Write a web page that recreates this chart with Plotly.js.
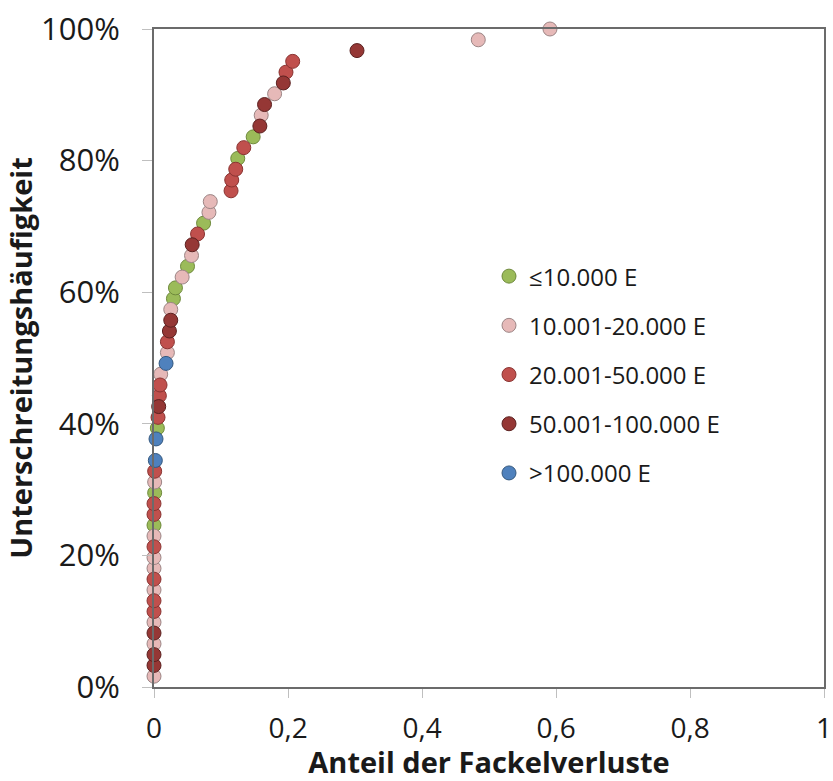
<!DOCTYPE html>
<html>
<head>
<meta charset="utf-8">
<script src="https://cdn.plot.ly/plotly-3.0.1.min.js"></script>
<style>html,body{margin:0;padding:0;background:#fff;}#chart{width:833px;height:781px;}</style>
</head>
<body>
<div id="chart"></div>
<script>
// Series: x = Anteil der Fackelverluste, y = Unterschreitungshäufigkeit (%)
const seriesNames = ["≤10.000 E", "10.001-20.000 E", "20.001-50.000 E", "50.001-100.000 E", ">100.000 E"];

const greenX = [0.000, 0.001, 0.005, 0.029, 0.032, 0.050, 0.074, 0.125, 0.148];
const greenY = [24.59, 29.51, 39.34, 59.02, 60.66, 63.93, 70.49, 80.33, 83.61];

const pinkX = [0.000, 0.000, 0.000, 0.000, 0.000, 0.000, 0.000, 0.001, 0.010, 0.020, 0.025, 0.042, 0.056, 0.082, 0.084, 0.160, 0.180, 0.484, 0.591];
const pinkY = [1.64, 6.56, 9.84, 14.75, 18.03, 19.67, 22.95, 31.15, 47.54, 50.82, 57.38, 62.30, 65.57, 72.13, 73.77, 86.89, 90.16, 98.36, 100.00];

const redX = [0.000, 0.000, 0.000, 0.000, 0.000, 0.000, 0.001, 0.006, 0.008, 0.009, 0.020, 0.065, 0.115, 0.116, 0.122, 0.134, 0.197, 0.207];
const redY = [11.48, 13.11, 16.39, 21.31, 26.23, 27.87, 32.79, 40.98, 44.26, 45.90, 52.46, 68.85, 75.41, 77.05, 78.69, 81.97, 93.44, 95.08];

const darkRedX = [0.000, 0.000, 0.000, 0.007, 0.023, 0.025, 0.057, 0.158, 0.165, 0.193, 0.303];
const darkRedY = [3.28, 4.92, 8.20, 42.62, 54.10, 55.74, 67.21, 85.25, 88.52, 91.80, 96.72];

const blueX = [0.002, 0.003, 0.018];
const blueY = [34.43, 37.70, 49.18];

const xTickVals = [0, 0.2, 0.4, 0.6, 0.8, 1];
const xTickText = ["0", "0,2", "0,4", "0,6", "0,8", "1"];
const yTickVals = [0, 20, 40, 60, 80, 100];
const yTickText = ["0%", "20%", "40%", "60%", "80%", "100%"];

const fills = ["#9BBB59", "#E6B9B8", "#C0504D", "#953735", "#4F81BD"];
const outlines = ["#6F8A3C", "#9C8585", "#8A3432", "#5C2120", "#35597F"];

const xs = [greenX, pinkX, redX, darkRedX, blueX];
const ys = [greenY, pinkY, redY, darkRedY, blueY];

const FONT = "'Open Sans', sans-serif";

const traces = seriesNames.map((name, i) => ({
  type: "scatter",
  mode: "markers",
  name: name,
  legendgroup: "g" + i,
  x: xs[i],
  y: ys[i],
  cliponaxis: false,
  marker: {size: 14, color: fills[i], line: {color: outlines[i], width: 1}}
}));

const layout = {
  width: 833,
  height: 781,
  margin: {l: 154, r: 9, t: 29, b: 94},
  paper_bgcolor: "#ffffff",
  plot_bgcolor: "#ffffff",
  font: {family: FONT, color: "#1a1a1a"},
  showlegend: true,
  legend: {
    x: 0.5, xanchor: "left",
    y: 0.658, yanchor: "top",
    font: {family: FONT, size: 24, color: "#1a1a1a"},
    tracegroupgap: 15,
    itemwidth: 30,
    bgcolor: "rgba(0,0,0,0)"
  },
  xaxis: {
    range: [0, 1],
    tickvals: xTickVals,
    ticktext: xTickText,
    ticks: "outside",
    ticklen: 9,
    tickwidth: 1,
    tickcolor: "#bfbfbf",
    ticklabelstandoff: 6,
    ticklabeloverflow: "allow",
    tickfont: {family: FONT, size: 28, color: "#1a1a1a"},
    showgrid: false,
    zeroline: false,
    showline: true,
    linecolor: "#6b6b6b",
    linewidth: 2,
    mirror: true,
    title: {text: "<b>Anteil der Fackelverluste</b>", font: {family: FONT, size: 29, color: "#1a1a1a"}, standoff: 13}
  },
  yaxis: {
    range: [0, 100],
    tickvals: yTickVals,
    ticktext: yTickText,
    ticks: "outside",
    ticklen: 10,
    tickwidth: 1,
    tickcolor: "#bfbfbf",
    ticklabelstandoff: 16,
    ticklabeloverflow: "allow",
    tickfont: {family: FONT, size: 31, color: "#1a1a1a"},
    showgrid: false,
    zeroline: false,
    showline: true,
    linecolor: "#6b6b6b",
    linewidth: 2,
    mirror: true,
    title: {text: "<b>Unterschreitungshäufigkeit</b>", font: {family: FONT, size: 29, color: "#1a1a1a"}, standoff: 0}
  }
};

Plotly.newPlot("chart", traces, layout, {displayModeBar: false, staticPlot: true});
</script>
</body>
</html>
